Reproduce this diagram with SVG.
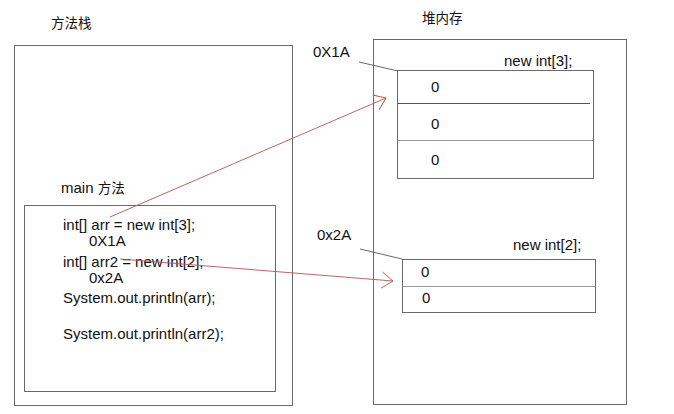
<svg xmlns="http://www.w3.org/2000/svg" width="674" height="414" viewBox="0 0 674 414">
<style>
  text { font-family: "Liberation Sans", "Noto Sans CJK SC", sans-serif; font-size: 15px; fill: #111; }
  .cjk { font-family: "Noto Sans CJK SC", "Liberation Sans", sans-serif; font-size: 13.5px; }
  .box { fill: none; stroke: #6a6a6a; stroke-width: 1; }
  .div { stroke: #555; stroke-width: 1; }
  .divl { stroke: #9a9a9a; stroke-width: 1; }
  .lead { stroke: #444; stroke-width: 0.8; fill: none; }
  .ref { stroke: #c0504d; stroke-width: 0.9; fill: none; }
</style>
<defs>
  <marker id="open" markerUnits="userSpaceOnUse" markerWidth="20" markerHeight="20" refX="0" refY="0" viewBox="-14 -10 16 20" orient="auto">
    <path d="M-11,-8 L0,0 L-11,8" fill="none" stroke="#c0504d" stroke-width="0.9"/>
  </marker>
</defs>
<rect width="674" height="414" fill="#fff"/>

<g id="stack">
  <text class="cjk" x="51" y="28">方法栈</text>
  <rect class="box" x="14.5" y="45.5" width="278" height="360"/>
</g>

<g id="main">
  <text x="61" y="193">main <tspan style="font-family:'Noto Sans CJK SC',sans-serif;font-size:13.5px">方法</tspan></text>
  <rect class="box" x="24.5" y="205.5" width="251" height="186"/>
  <text x="63" y="230">int[] arr = new int[3];</text>
  <text x="89" y="246">0X1A</text>
  <text x="63" y="267">int[] arr2 = new int[2];</text>
  <text x="89" y="283">0x2A</text>
  <text x="63" y="303">System.out.println(arr);</text>
  <text x="63" y="339">System.out.println(arr2);</text>
</g>

<g id="heap">
  <text class="cjk" x="422" y="23">堆内存</text>
  <rect class="box" x="373.5" y="39.5" width="253" height="365"/>
</g>

<g id="array1">
  <text x="313" y="57">0X1A</text>
  <text x="504" y="66">new int[3];</text>
  <rect class="box" x="397.5" y="70.5" width="196" height="108"/>
  <line class="div" x1="397.5" y1="103.5" x2="590" y2="103.5"/>
  <line class="divl" x1="397.5" y1="140.5" x2="593.5" y2="140.5"/>
  <text x="431" y="92">0</text>
  <text x="431" y="129">0</text>
  <text x="431" y="165">0</text>
</g>

<g id="array2">
  <text x="317" y="240">0x2A</text>
  <text x="513" y="250">new int[2];</text>
  <rect class="box" x="402.5" y="259.5" width="193" height="53"/>
  <line class="divl" x1="402.5" y1="286.5" x2="595.5" y2="286.5"/>
  <text x="421" y="277">0</text>
  <text x="422" y="303">0</text>
</g>

<g id="connectors">
  <line class="lead" x1="359" y1="62" x2="398" y2="71"/>
  <line class="lead" x1="360" y1="249" x2="402" y2="259"/>
  <line class="ref" x1="110" y1="217" x2="386" y2="98" marker-end="url(#open)"/>
  <line class="ref" x1="120" y1="259" x2="393" y2="281" marker-end="url(#open)"/>
</g>
</svg>
